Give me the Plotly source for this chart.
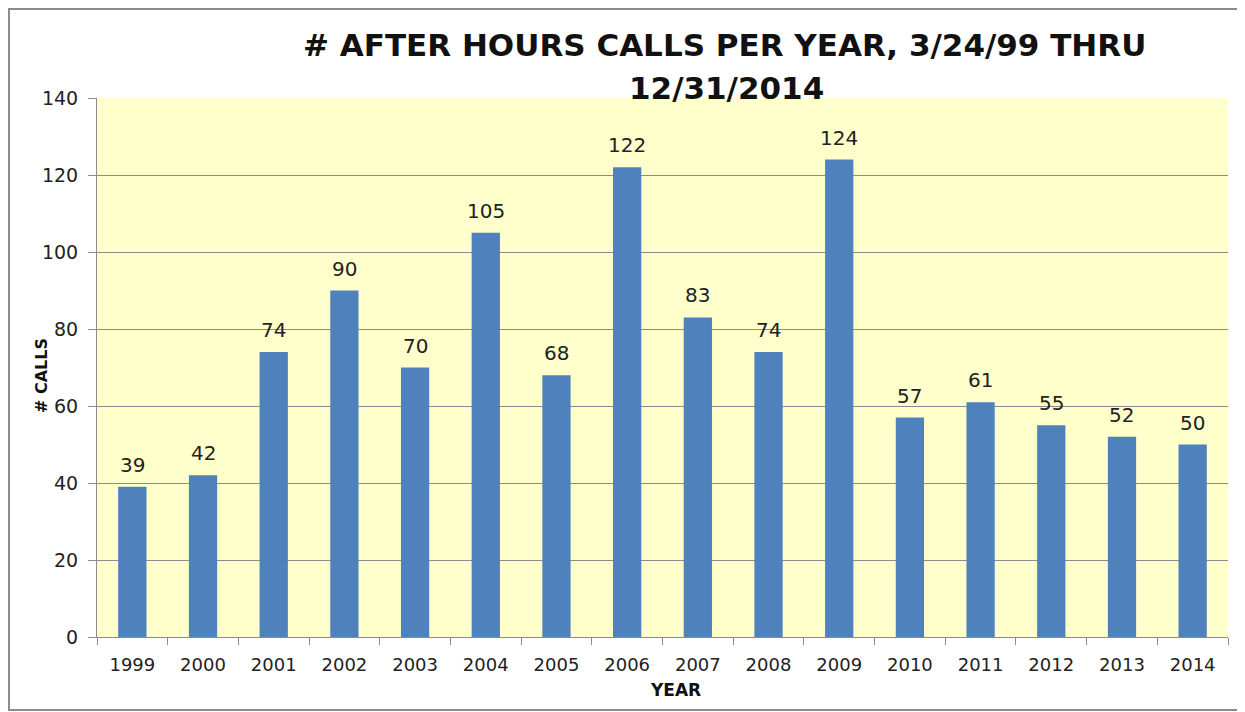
import plotly.graph_objects as go

years = ["1999", "2000", "2001", "2002", "2003", "2004", "2005", "2006",
         "2007", "2008", "2009", "2010", "2011", "2012", "2013", "2014"]
calls = [39, 42, 74, 90, 70, 105, 68, 122, 83, 74, 124, 57, 61, 55, 52, 50]
y_ticks = [0, 20, 40, 60, 80, 100, 120, 140]

FONT = "DejaVu Sans, sans-serif"
# page body has an 8px margin, so the figure is offset by 8px
OFF = 8
W, H = 1245 - OFF, 712 - OFF
PL, PT, PR, PB = 97, 98, 1228, 637  # plot area in screen pixels
L, T, R, B = PL - OFF, PT - OFF, 1245 - PR, 712 - PB
pw, ph = W - L - R, H - T - B

fig = go.Figure()
fig.add_trace(go.Bar(x=years, y=calls, marker=dict(color="#4F81BD", line=dict(width=0)),
                     width=0.4, hoverinfo="x+y"))

annotations = []
for i, v in enumerate(calls):
    annotations.append(dict(x=i, y=v, xref="x", yref="y", text=str(v), showarrow=False,
                            yshift=22, font=dict(family=FONT, size=20, color="#222222")))

def px(sx):
    return (sx - PL) / pw

def py(sy):
    return (PB - sy) / ph

def paper_text(sx, sy, text, size, angle=0):
    return dict(x=px(sx), y=py(sy), xref="paper", yref="paper", text=text,
                textangle=angle, showarrow=False, xanchor="center", yanchor="middle",
                font=dict(family=FONT, size=size, color="#111111"))

annotations.append(paper_text(41, 376, "<b># CALLS</b>", 16, -90))
annotations.append(paper_text(675, 690, "<b>YEAR</b>", 17))
annotations.append(paper_text(725, 45, "<b># AFTER HOURS CALLS PER YEAR, 3/24/99 THRU</b>", 31))
annotations.append(paper_text(726, 88, "<b>12/31/2014</b>", 31))

fig.update_layout(
    width=W, height=H,
    margin=dict(l=L, r=R, t=T, b=B),
    paper_bgcolor="white",
    plot_bgcolor="#FFFFCC",
    showlegend=False,
    annotations=annotations,
    shapes=[dict(type="rect", xref="paper", yref="paper",
                 x0=px(9), x1=px(1238), y0=py(710), y1=py(9),
                 line=dict(color="#8c8c8c", width=2), fillcolor="rgba(0,0,0,0)", layer="below")],
    font=dict(family=FONT, size=17, color="#222222"),
)
fig.update_xaxes(type="category", range=[-0.5, len(years) - 0.5], tickson="boundaries",
                 ticks="outside", ticklen=7, tickangle=0, automargin=False,
                 tickcolor="#8c8c8c", showline=True, linecolor="#8c8c8c", linewidth=1,
                 showgrid=False, tickfont=dict(family=FONT, size=18, color="#222222"),
                 ticklabelstandoff=11)
fig.update_yaxes(range=[0, 140], tickvals=y_ticks, ticks="outside", ticklen=8, automargin=False,
                 tickcolor="#8c8c8c", showline=True, linecolor="#8c8c8c", linewidth=1,
                 showgrid=True, gridcolor="#8c8c8c", gridwidth=1, zeroline=False,
                 tickfont=dict(family=FONT, size=19, color="#222222"), ticklabelstandoff=6)

fig.write_html("out.html")
